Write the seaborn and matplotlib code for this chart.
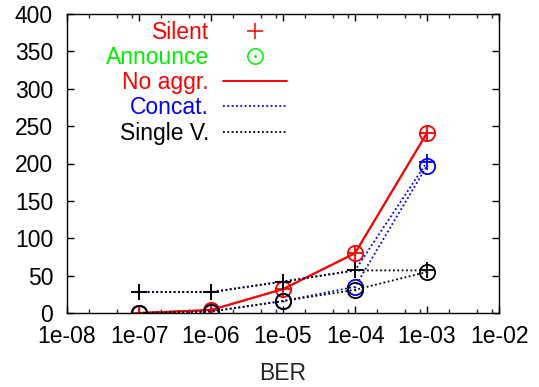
import seaborn as sns
import pandas as pd
import matplotlib.pyplot as plt
from matplotlib.lines import Line2D
from matplotlib.legend_handler import HandlerTuple
from matplotlib.ticker import FixedLocator, NullFormatter

# Data
ber = [1e-07, 1e-06, 1e-05, 1e-04, 1e-03]
noaggr_silent = [0, 4, 32, 80, 241]
noaggr_announce = [0, 4, 32, 80, 241]
concat_silent = [28, 28, 42, 57, 202]
concat_announce = [0, 2, 16, 35, 197]
singlev_silent = [28, 28, 42, 57, 57]
singlev_announce = [0, 2, 16, 31, 55]

xticks = [1e-08, 1e-07, 1e-06, 1e-05, 1e-04, 1e-03, 1e-02]
xticklabels = ["1e-08", "1e-07", "1e-06", "1e-05", "1e-04", "1e-03", "1e-02"]
yticks = [0, 50, 100, 150, 200, 250, 300, 350, 400]

if __name__ == "__main__":
    sns.set_style("ticks")
    plt.rcParams['font.family'] = ['Liberation Sans', 'DejaVu Sans']
    FS = 16.5

    fig = plt.figure(figsize=(5.39, 3.87), dpi=100)
    ax = fig.add_axes([67 / 539, 1 - 313 / 387, 432 / 539, 299 / 387])

    series = [
        ("red", "-", 1.4, noaggr_silent, noaggr_announce),
        ("blue", (0, (1, 1.4)), 1.3, concat_silent, concat_announce),
        ("black", (0, (1, 1.4)), 1.3, singlev_silent, singlev_announce),
    ]
    for color, ls, lw, silent, announce in series:
        sns.lineplot(x=ber, y=silent, ax=ax, color=color, linestyle=ls, linewidth=lw,
                     marker="+", markersize=11, markeredgewidth=1.3, markeredgecolor=color)
        sns.lineplot(x=ber, y=announce, ax=ax, color=color, linestyle=ls, linewidth=lw,
                     marker="o", markersize=11, markerfacecolor="none",
                     markeredgewidth=1.3, markeredgecolor=color)
        sns.scatterplot(x=ber, y=announce, ax=ax, color=color, marker=".", s=6,
                        linewidth=0)

    ax.set_xscale("log")
    ax.set_xlim(1e-08, 1e-02)
    ax.set_ylim(0, 400)
    ax.xaxis.set_major_locator(FixedLocator(xticks))
    ax.set_xticklabels(xticklabels)
    minors = [m * d for d in xticks[:-1] for m in (2, 5, 8)]
    ax.xaxis.set_minor_locator(FixedLocator(minors))
    ax.xaxis.set_minor_formatter(NullFormatter())
    ax.set_yticks(yticks)

    ax.tick_params(axis="both", which="major", direction="in", length=5, width=1,
                   top=True, right=True, labelsize=FS, colors="black")
    ax.tick_params(axis="x", which="minor", direction="in", length=3, width=1,
                   top=True, bottom=True)
    ax.tick_params(axis="y", pad=10)
    ax.tick_params(axis="x", pad=8.5)
    for sp in ax.spines.values():
        sp.set_visible(True)
        sp.set_linewidth(1)
        sp.set_color("black")

    ax.set_xlabel("BER", fontsize=FS, labelpad=10)
    ax.set_ylabel("")

    handles = [
        Line2D([], [], color="red", marker="+", linestyle="none", markersize=11, markeredgewidth=1.1),
        (Line2D([], [], color="#00ee00", marker="o", linestyle="none", markersize=11,
                markerfacecolor="none", markeredgewidth=1.1),
         Line2D([], [], color="#00ee00", marker=".", linestyle="none", markersize=2)),
        Line2D([], [], color="red", linestyle="-", linewidth=1.4),
        Line2D([], [], color="blue", linestyle=(0, (1, 1.4)), linewidth=1.3),
        Line2D([], [], color="black", linestyle=(0, (1, 1.4)), linewidth=1.3),
    ]
    labels = ["Silent", "Announce", "No aggr.", "Concat.", "Single V."]
    ax.legend(handles, labels, handler_map={tuple: HandlerTuple(ndivide=1)},
              markerfirst=False, frameon=False, fontsize=FS,
              labelcolor=["red", "#00ee00", "red", "blue", "black"],
              loc="upper right", bbox_to_anchor=(0.509, 0.978), borderaxespad=0,
              borderpad=0, handlelength=2.8, handletextpad=0.6, labelspacing=0.1)

    plt.savefig("out.png", dpi=100)
